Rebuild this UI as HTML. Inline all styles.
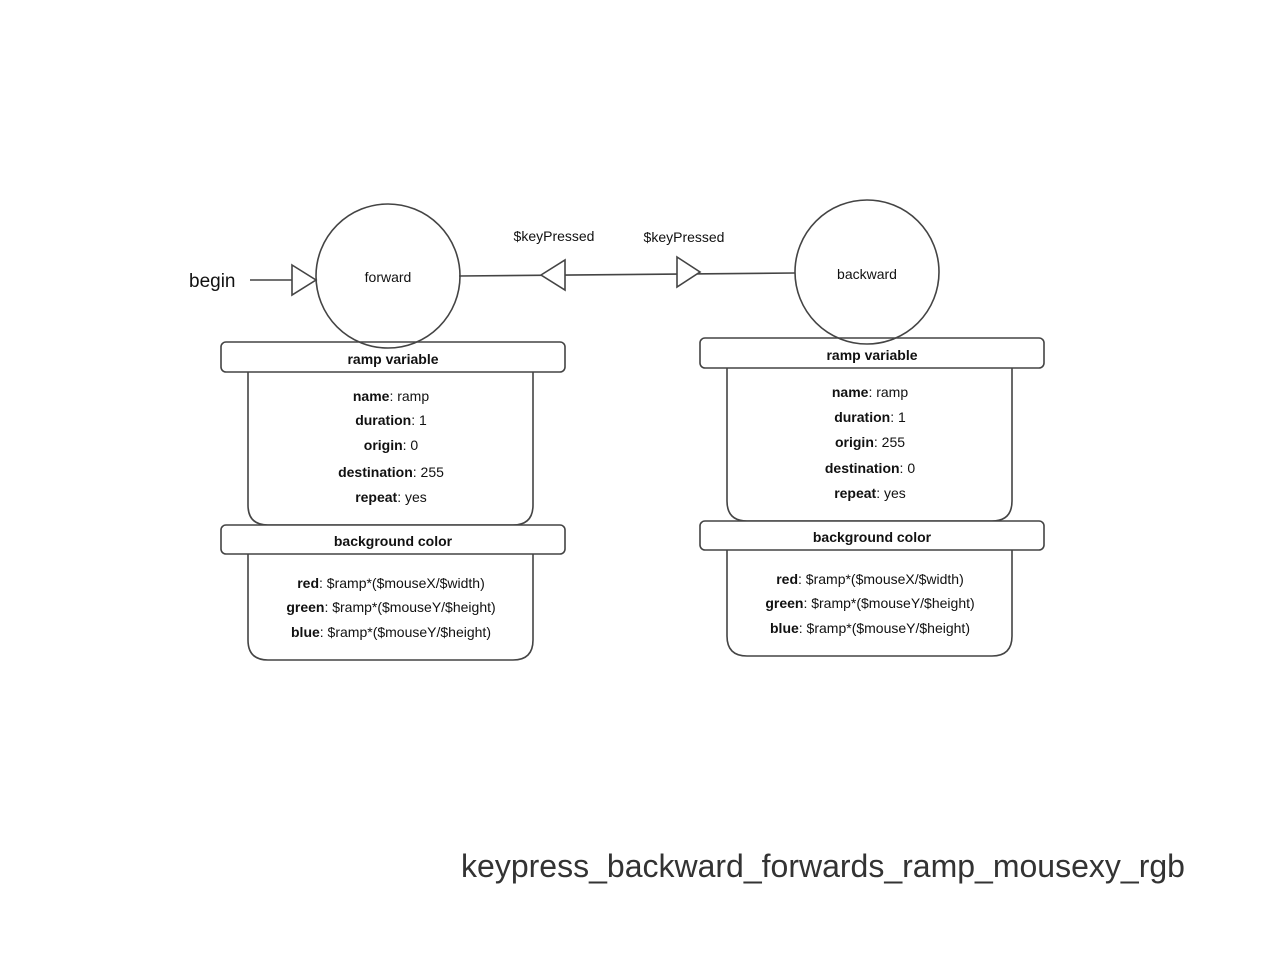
<!DOCTYPE html>
<html><head><meta charset="utf-8"><style>
html,body{margin:0;padding:0;background:#fff;}
svg{display:block;}
text{font-family:"Liberation Sans",Arial,sans-serif;fill:#111;}
</style></head><body>
<svg width="1280" height="960" viewBox="0 0 1280 960" xmlns="http://www.w3.org/2000/svg">
<defs>
<g id="panel">
  <path d="M248,372 V505 Q248,525 268,525 H513 Q533,525 533,505 V372" fill="#fff" stroke="#444" stroke-width="1.6"/>
  <path d="M248,554 V640 Q248,660 268,660 H513 Q533,660 533,640 V554" fill="#fff" stroke="#444" stroke-width="1.6"/>
  <rect x="221" y="342" width="344" height="30" rx="5" fill="#fff" stroke="#444" stroke-width="1.6"/>
  <rect x="221" y="525" width="344" height="29" rx="5" fill="#fff" stroke="#444" stroke-width="1.6"/>
  <text x="393" y="364" font-size="14" font-weight="bold" text-anchor="middle">ramp variable</text>
  <text x="393" y="546" font-size="14" font-weight="bold" text-anchor="middle">background color</text>
  <g font-size="14" text-anchor="middle">
    <text x="391" y="588"><tspan font-weight="bold">red</tspan>: $ramp*($mouseX/$width)</text>
    <text x="391" y="612"><tspan font-weight="bold">green</tspan>: $ramp*($mouseY/$height)</text>
    <text x="391" y="637"><tspan font-weight="bold">blue</tspan>: $ramp*($mouseY/$height)</text>
  </g>
</g>
</defs>
<use href="#panel"/>
<use href="#panel" transform="translate(479,-4)"/>
<g font-size="14" text-anchor="middle">
  <text x="391" y="401"><tspan font-weight="bold">name</tspan>: ramp</text>
  <text x="391" y="425"><tspan font-weight="bold">duration</tspan>: 1</text>
  <text x="391" y="450"><tspan font-weight="bold">origin</tspan>: 0</text>
  <text x="391" y="477"><tspan font-weight="bold">destination</tspan>: 255</text>
  <text x="391" y="502"><tspan font-weight="bold">repeat</tspan>: yes</text>
  <text x="870" y="397"><tspan font-weight="bold">name</tspan>: ramp</text>
  <text x="870" y="422"><tspan font-weight="bold">duration</tspan>: 1</text>
  <text x="870" y="447"><tspan font-weight="bold">origin</tspan>: 255</text>
  <text x="870" y="473"><tspan font-weight="bold">destination</tspan>: 0</text>
  <text x="870" y="498"><tspan font-weight="bold">repeat</tspan>: yes</text>
</g>
<line x1="250" y1="280" x2="292" y2="280" stroke="#444" stroke-width="1.6"/>
<polygon points="292,265 316,280 292,295" fill="#fff" stroke="#444" stroke-width="1.6"/>
<line x1="459" y1="276" x2="795" y2="273" stroke="#444" stroke-width="1.6"/>
<polygon points="541,275 565,260 565,290" fill="#fff" stroke="#444" stroke-width="1.6"/>
<polygon points="677,257 700,272 677,287" fill="#fff" stroke="#444" stroke-width="1.6"/>
<circle cx="388" cy="276" r="72" fill="none" stroke="#444" stroke-width="1.6"/>
<circle cx="867" cy="272" r="72" fill="none" stroke="#444" stroke-width="1.6"/>
<text x="388" y="282" font-size="14" text-anchor="middle">forward</text>
<text x="867" y="279" font-size="14" text-anchor="middle">backward</text>
<text x="554" y="241" font-size="14" text-anchor="middle">$keyPressed</text>
<text x="684" y="242" font-size="14" text-anchor="middle">$keyPressed</text>
<text x="189" y="287" font-size="19">begin</text>
<text x="823" y="877" font-size="32" text-anchor="middle" style="fill:#333">keypress_backward_forwards_ramp_mousexy_rgb</text>
</svg>
</body></html>
